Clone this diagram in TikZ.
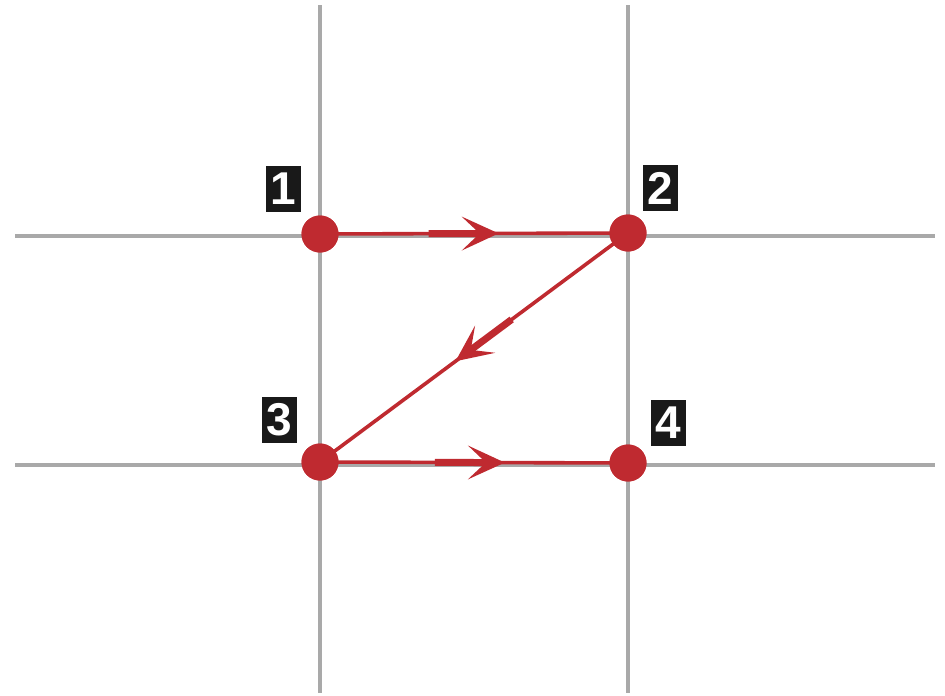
\documentclass[tikz,border=0pt]{standalone}
\usepackage{fontspec}
\setmainfont{Liberation Sans}
\usetikzlibrary{decorations.markings}
\definecolor{gridgrey}{HTML}{A9A9A9}
\definecolor{zred}{HTML}{BF2A30}
\tikzset{
  gridline/.style={draw=gridgrey,line width=3.5pt},
  dot/.style={circle,fill=zred,minimum size=37pt,inner sep=0pt},
  numbox/.style={fill=black!90,text=white,font=\bfseries\fontsize{46}{46}\selectfont,minimum width=35pt,minimum height=46pt,inner sep=0pt},
  zline/.style={draw=zred,line width=3.6pt},
  midarrow/.style={postaction={decorate},decoration={markings,
     mark=at position #1 with {\fill[zred] (-18pt,-3.5pt) rectangle (-70pt,3.5pt);
       \fill[zred] (0pt,0pt) -- (-37pt,17pt) -- (-19pt,0pt) -- (-37pt,-17pt) -- cycle;}}}
}
\begin{document}
\begin{tikzpicture}[x=1pt,y=-1pt]
\useasboundingbox (0,0) rectangle (945,696);
\draw[gridline] (320,5) -- (320,693);
\draw[gridline] (628,5) -- (628,693);
\draw[gridline] (15,236) -- (935,236);
\draw[gridline] (15,465) -- (935,465);
\node[dot] (p1) at (320,234) {};
\node[dot] (p2) at (628,233) {};
\node[dot] (p3) at (320,462) {};
\node[dot] (p4) at (628,463) {};
\draw[zline,midarrow=0.58] (p1.center) -- (p2.center);
\draw[zline,midarrow=0.56] (p2.center) -- (p3.center);
\draw[zline,midarrow=0.6] (p3.center) -- (p4.center);
\node[dot] at (p1) {};
\node[dot] at (p2) {};
\node[dot] at (p3) {};
\node[dot] at (p4) {};
\node[numbox] (l1) at (283,189) {1};
\node[numbox] (l2) at (660,188) {2};
\node[numbox] (l3) at (279,420) {3};
\node[numbox] (l4) at (668,423) {4};
\end{tikzpicture}
\end{document}
